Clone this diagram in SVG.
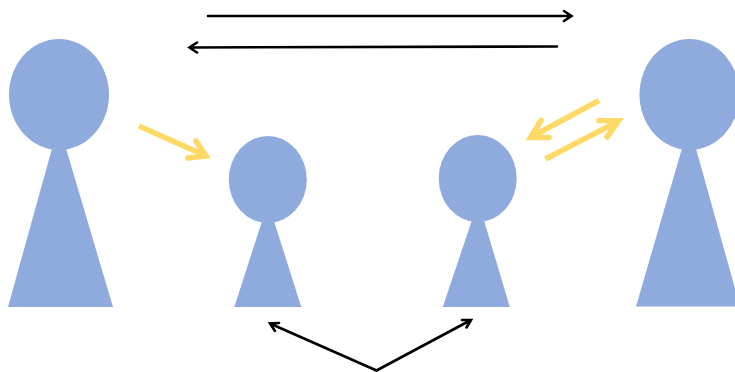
<svg xmlns="http://www.w3.org/2000/svg" width="735" height="372" viewBox="0 0 735 372">
<defs><style>.p{fill:#8faadc}.k{fill:none;stroke:#000;stroke-width:2.6;stroke-linecap:round}.y{fill:none;stroke:#ffd966;stroke-width:5.600}.h{stroke-linecap:round;stroke-linejoin:miter;stroke-miterlimit:10}</style></defs>
<rect width="735" height="372" fill="#fff"/>
<g id="person-1"><ellipse class="p" cx="59" cy="94.500" rx="50" ry="55.500"/><polygon class="p" points="53,145 65,145 113,307 8,307"/></g>
<g id="person-2"><ellipse class="p" cx="267.800" cy="179.500" rx="39" ry="43.500"/><polygon class="p" points="263,218 273,218 301.300,307 234.300,307"/></g>
<g id="person-3"><ellipse class="p" cx="477.700" cy="178.500" rx="39" ry="43.500"/><polygon class="p" points="473,217 483,217 509.800,307 442.800,307"/></g>
<g id="person-4"><ellipse class="p" cx="689.500" cy="94.500" rx="50" ry="55.500"/><polygon class="p" points="683,145 695,145 740,306.500 636,306.500"/></g>
<g id="connectors">
<path class="k" d="M208 16H571M564 11L571.500 16L564 21"/>
<path class="k" d="M557 46.500L189.500 47.500M197 42.500L189.500 47.500L197 52.500"/>
<path class="k" d="M376.500 370.500L270 323.500M279 323L270 323.500L275 331"/>
<path class="k" d="M376.500 370.500L471 320M462 320L471 320L466.500 327.500"/>
<path class="y" d="M139 126L204 155"/>
<path class="y h" d="M196 141L206 156L188 158"/>
<path class="y" d="M599 100.500L533 136"/>
<path class="y h" d="M541 120.500L530.500 137.500L549 137.500"/>
<path class="y" d="M545.500 159L616 122.500"/>
<path class="y h" d="M599 120.500L618.500 121L607 137"/>
</g>
</svg>
